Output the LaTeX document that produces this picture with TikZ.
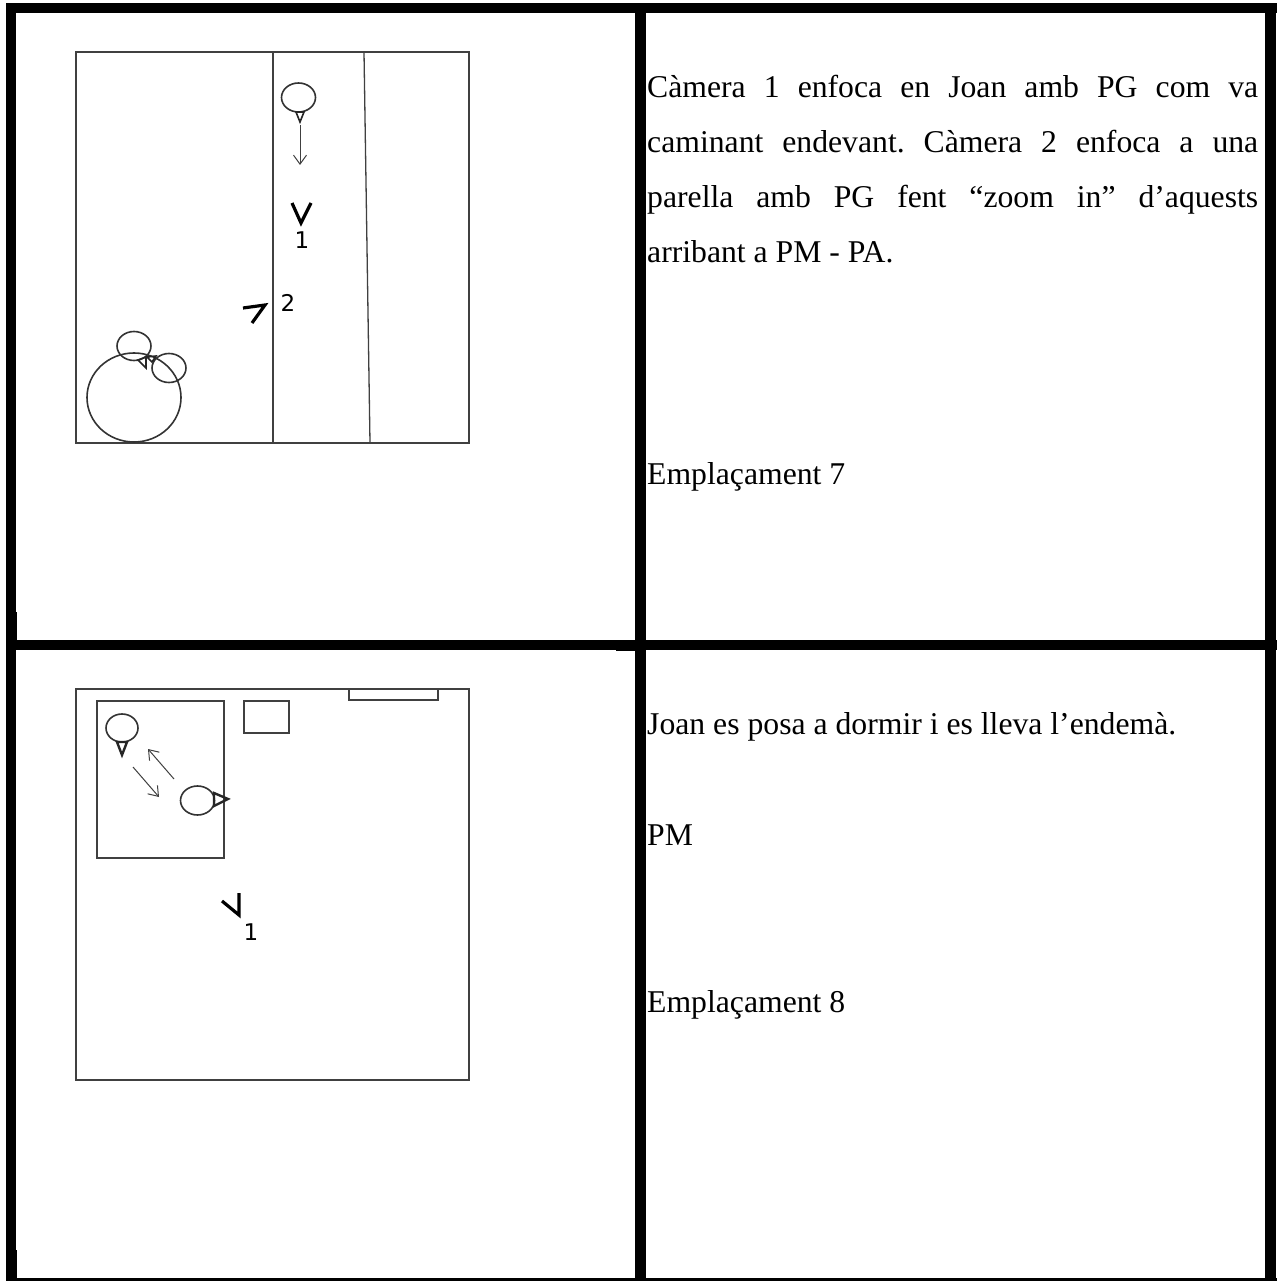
\documentclass[tikz,border=0pt]{standalone}
\usepackage{fontspec}
\setmainfont{Liberation Serif}
\newfontfamily\labelfont{DejaVu Sans}
\usetikzlibrary{arrows.meta,shapes.geometric}
\frenchspacing
\tikzset{
  bar/.style={fill=black,draw=none},
  plan/.style={draw=black!75,line width=1.3pt},
  head/.style={ellipse,draw=black!80,line width=1.6pt,fill=none,inner sep=0pt,minimum width=34pt,minimum height=29pt},
  nose/.style={draw=black!85,line width=1.6pt,line join=miter},
  cam/.style={draw=black,line width=3.2pt,line join=miter},
  walk/.style={draw=black!75,line width=1pt,-{Straight Barb[length=9pt,width=13pt,line width=1pt]}},
  body/.style={anchor=base west,inner sep=0pt,font=\fontsize{31.7pt}{55pt}\selectfont},
  camlabel/.style={inner sep=0pt,font=\labelfont\fontsize{23pt}{23pt}\selectfont}
}
\begin{document}
\begin{tikzpicture}[x=1pt,y=-1pt]
\useasboundingbox (0,0) rectangle (1277,1281);
\fill[white] (0,0) rectangle (1277,1281);
% table rules
\fill[bar] (6,3) rectangle (1277,13);
\fill[bar] (6,640) rectangle (1277,650);
\fill[bar] (616,650) rectangle (636,651);
\fill[bar] (6,1278) rectangle (1277,1281);
\fill[bar] (6,3) rectangle (16,1281);
\fill[bar] (16,612) rectangle (17,640);
\fill[bar] (16,1250) rectangle (17,1278);
\fill[bar] (635,3) rectangle (646,1281);
\fill[bar] (1265,3) rectangle (1276,1281);
% plan 1
\draw[plan] (76,52) rectangle (469,443);
\draw[plan] (273,52) -- (273,443);
\draw[plan] (364,52) -- (370,443);
\node[head,minimum width=94pt,minimum height=89pt] (table) at (134,397.5) {};
\node[head] (joan) at (298.5,97.5) {};
\draw[nose] (296,112) -- (304,112) -- (300,122) -- cycle;
\coordinate (joanfrom) at (300,125);
\coordinate (joanto) at (300,165);
\draw[walk] (joanfrom) -- (joanto);
\node[head] (womanA) at (134,346) {};
\draw[nose] (138,360) -- (146,368) -- (146,357) -- cycle;
\node[head] (womanB) at (169,368) {};
\draw[nose] (147,357) -- (156,356) -- (152,362) -- cycle;
\draw[cam] (292,203) -- (301,223) -- (311,203);
\node[camlabel] (cam1a) at (302,240) {1};
\draw[cam] (243,308) -- (265,305) -- (252,323);
\node[camlabel] (cam2a) at (288,303) {2};
% plan 2
\draw[plan] (76,689) rectangle (469,1080);
\draw[plan] (349,689) rectangle (438,700);
\draw[plan] (97,701) rectangle (224,858);
\draw[plan] (244,701) rectangle (289,733);
\node[head,minimum width=32pt,minimum height=28pt] (sleepA) at (122,728) {};
\draw[nose,line width=2.4pt] (117,742) -- (127,742) -- (122,755) -- cycle;
\node[head,minimum width=34pt,minimum height=29pt] (sleepB) at (197.5,800.5) {};
\draw[nose,line width=2.4pt] (214,793) -- (228,799) -- (214,806) -- cycle;
\coordinate (upfrom) at (174,779);
\coordinate (upto) at (148,749);
\coordinate (downfrom) at (133,767);
\coordinate (downto) at (159,797);
\draw[walk] (upfrom) -- (upto);
\draw[walk] (downfrom) -- (downto);
\draw[cam] (222,901) -- (239,915) -- (239,893);
\node[camlabel] (cam1b) at (251,932) {1};
% text
\node[body,text width=611pt,align=justify] (para) at (647,97.5) {Càmera 1 enfoca en Joan amb PG com va\linebreak caminant endevant. Càmera 2 enfoca a una\linebreak parella amb PG fent “zoom in” d’aquests\linebreak arribant a PM - PA.};
\node[body] (empl7) at (647,484) {Emplaçament 7};
\node[body] (joantext) at (647,734) {Joan es posa a dormir i es lleva l’endemà.};
\node[body] (pm) at (647,845) {PM};
\node[body] (empl8) at (647,1012) {Emplaçament 8};
\end{tikzpicture}
\end{document}
